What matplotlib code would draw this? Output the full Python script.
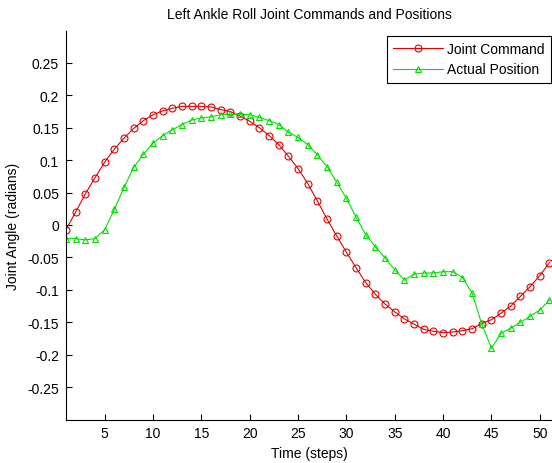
import numpy as np
import matplotlib
matplotlib.use("Agg")
from matplotlib import pyplot as plt

# values
steps = np.arange(1, 52)
joint_command = [-0.007, 0.020, 0.048, 0.073, 0.097, 0.117, 0.134, 0.149, 0.161, 0.170,
                 0.176, 0.180, 0.183, 0.183, 0.183, 0.182, 0.178, 0.175, 0.168, 0.160,
                 0.150, 0.138, 0.124, 0.106, 0.087, 0.064, 0.037, 0.009, -0.017, -0.042,
                 -0.066, -0.089, -0.107, -0.122, -0.134, -0.145, -0.153, -0.161, -0.164, -0.166,
                 -0.165, -0.163, -0.160, -0.152, -0.146, -0.136, -0.125, -0.110, -0.095, -0.078,
                 -0.058]
actual_position = [-0.021, -0.021, -0.023, -0.021, -0.007, 0.024, 0.058, 0.089, 0.109, 0.126,
                   0.138, 0.147, 0.155, 0.162, 0.165, 0.167, 0.170, 0.171, 0.171, 0.170,
                   0.166, 0.161, 0.155, 0.143, 0.135, 0.124, 0.108, 0.090, 0.066, 0.041,
                   0.012, -0.015, -0.034, -0.051, -0.069, -0.085, -0.076, -0.074, -0.074, -0.072,
                   -0.072, -0.081, -0.105, -0.153, -0.190, -0.167, -0.159, -0.150, -0.141, -0.131,
                   -0.116]
xticks = [5, 10, 15, 20, 25, 30, 35, 40, 45, 50]
yticks = [-0.25, -0.2, -0.15, -0.1, -0.05, 0, 0.05, 0.1, 0.15, 0.2, 0.25]
ytick_labels = ["-0.25", "-0.2", "-0.15", "-0.1", "-0.05", "0",
                "0.05", "0.1", "0.15", "0.2", "0.25"]

plt.rcParams['font.family'] = ['Liberation Sans', 'DejaVu Sans']
plt.rcParams['font.size'] = 10

fig = plt.figure(figsize=(5.52, 4.64), dpi=100)
ax = fig.add_axes([66 / 552, 43.5 / 464, 1 - 66 / 552, 389 / 464])

ax.plot(steps, joint_command, color='#e00000', lw=0.8, marker='o', ms=5,
        mfc='none', mew=0.8, label='Joint Command')
ax.plot(steps, actual_position, color='#00e000', lw=0.8, marker='^', ms=5,
        mfc='none', mew=0.8, label='Actual Position')

ax.set_xlim(1, 51.26)
ax.set_ylim(-0.3, 0.3)
ax.set_xticks(xticks)
ax.set_yticks(yticks)
ax.set_yticklabels(ytick_labels)
ax.tick_params(direction='in', length=4, width=0.8, pad=5)

ax.spines['top'].set_visible(False)
ax.spines['right'].set_visible(False)

ax.set_title('Left Ankle Roll Joint Commands and Positions', fontsize=10, pad=9)
ax.set_xlabel('Time (steps)', labelpad=4)
ax.set_ylabel('Joint Angle (radians)', labelpad=5)

leg = ax.legend(loc='upper right', bbox_to_anchor=(551 / 552, 1 - 37 / 464),
                bbox_transform=fig.transFigure, borderaxespad=0, fancybox=False,
                edgecolor='black', framealpha=1, handlelength=3.6,
                borderpad=0.45, labelspacing=0.45, handletextpad=0.3)
leg.get_frame().set_linewidth(0.8)

fig.savefig('out.png', dpi=100)
